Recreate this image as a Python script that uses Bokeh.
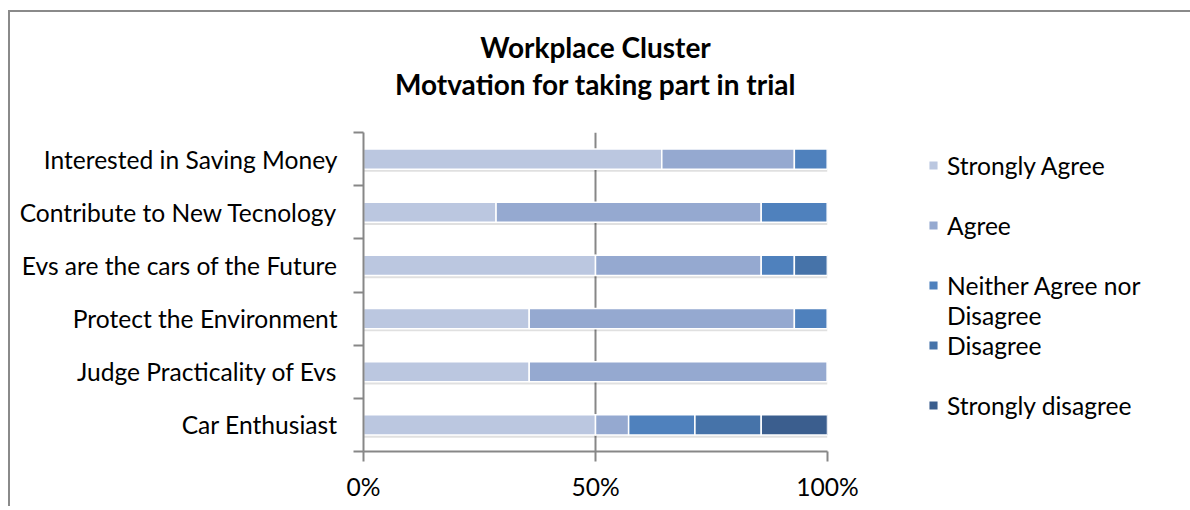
from bokeh.plotting import figure
from bokeh.models import (ColumnDataSource, Range1d, FixedTicker, LinearAxis, NumeralTickFormatter,
                          Legend, LegendItem, Title)
from bokeh.transform import dodge
from bokeh.embed import file_html
from bokeh.resources import INLINE

categories = ["Interested in Saving Money", "Contribute to New Tecnology", "Evs are the cars of the Future",
              "Protect the Environment", "Judge Practicality of Evs", "Car Enthusiast"]
series = ["Strongly Agree", "Agree", "Neither Agree nor Disagree", "Disagree", "Strongly disagree"]
strongly_agree = [9, 4, 7, 5, 5, 7]
agree = [4, 8, 5, 8, 9, 1]
neither = [1, 2, 1, 1, 0, 2]
disagree = [0, 0, 1, 0, 0, 2]
strongly_disagree = [0, 0, 0, 0, 0, 2]
x_ticks = [0, 0.5, 1]
colors = ["#BBC7E0", "#95A9D0", "#4F81BD", "#4673A9", "#3B5E8E"]

title1 = "Workplace Cluster"
title2 = "Motvation for taking part in trial"

FONT = "Lato"
GRAY = "#878787"
FS = "24.6px"

counts = [strongly_agree, agree, neither, disagree, strongly_disagree]
keys = ["sa", "a", "n", "d", "sd"]
n = len(categories)
totals = [sum(c[i] for c in counts) for i in range(n)]
data = {"y": [n - i - 0.5 for i in range(n)], "cat": categories, "total": [1.0] * n}
for k, c in zip(keys, counts):
    data[k] = [c[i] / totals[i] for i in range(n)]
source = ColumnDataSource(data)

p = figure(frame_width=464, frame_height=319, output_backend="svg", toolbar_location=None, title=None,
           x_range=Range1d(0, 1), y_range=Range1d(0, n),
           min_border_left=353, min_border_right=0, min_border_top=120, min_border_bottom=55)
p.styles = {"border-top": "2px solid #8a8a8a", "border-left": "2px solid #8a8a8a",
            "margin-top": "10px", "margin-left": "8px"}
p.outline_line_color = None
p.background_fill_color = "white"
p.border_fill_color = "white"

# grid
p.ygrid.visible = False
p.xgrid.ticker = FixedTicker(ticks=x_ticks)
p.xgrid.grid_line_color = GRAY
p.xgrid.grid_line_width = 2

# shadow
p.hbar(y=dodge("y", -0.05, range=p.y_range), left=0, right="total", height=0.38, source=source,
       fill_color="black", fill_alpha=0.12, line_color=None)

rs = p.hbar_stack(keys, y="y", height=0.38, color=colors, source=source,
                  line_color="white", line_width=1.5)
blank = p.hbar(y="y", left=0, right=0, height=0.0, source=source, fill_alpha=0, line_alpha=0)

# x axis
xa = p.xaxis[0]
xa.ticker = FixedTicker(ticks=x_ticks)
xa.formatter = NumeralTickFormatter(format="0%")
xa.major_tick_out = 10
xa.major_tick_in = 0
xa.minor_tick_line_color = None
xa.axis_line_color = GRAY
xa.axis_line_width = 2
xa.major_tick_line_color = GRAY
xa.major_tick_line_width = 2
xa.major_label_text_font = FONT
xa.major_label_text_font_size = FS
xa.major_label_text_color = "black"
xa.major_label_standoff = 10

# y tick axis (category boundaries)
ya = p.yaxis[0]
ya.ticker = FixedTicker(ticks=list(range(n + 1)))
ya.major_label_overrides = {i: "" for i in range(n + 1)}
ya.major_tick_out = 10
ya.major_tick_in = 0
ya.minor_tick_line_color = None
ya.axis_line_color = GRAY
ya.axis_line_width = 2
ya.major_tick_line_color = GRAY
ya.major_tick_line_width = 2
ya.major_label_standoff = 0

# y label axis
la = LinearAxis(ticker=FixedTicker(ticks=data["y"]),
                major_label_overrides={yv: c for yv, c in zip(data["y"], categories)})
la.major_tick_line_color = None
la.minor_tick_line_color = None
la.axis_line_color = None
la.major_label_text_font = FONT
la.major_label_text_font_size = FS
la.major_label_text_color = "black"
la.major_label_standoff = 10
p.add_layout(la, "left")

# legend (blank rows reproduce the reference's spacing and the wrapped label)
items = [LegendItem(label=series[0], renderers=[rs[0]]),
         LegendItem(label=" ", renderers=[blank]),
         LegendItem(label=series[1], renderers=[rs[1]]),
         LegendItem(label="  ", renderers=[blank]),
         LegendItem(label="Neither Agree nor", renderers=[rs[2]]),
         LegendItem(label="Disagree ", renderers=[blank]),
         LegendItem(label=series[3], renderers=[rs[3]]),
         LegendItem(label="   ", renderers=[blank]),
         LegendItem(label=series[4], renderers=[rs[4]])]
legend = Legend(items=items, location=(100, 31), orientation="vertical",
                glyph_width=12, glyph_height=12, label_text_font=FONT, label_text_font_size=FS,
                label_text_color="black", label_standoff=8, spacing=0, label_height=30,
                padding=0, margin=0, border_line_color=None, background_fill_alpha=0)
p.add_layout(legend, "right")

# title: second line as a label-only top axis, first line as a Title above it
ta = LinearAxis(ticker=FixedTicker(ticks=[]), axis_label=title2)
ta.axis_line_color = None
ta.major_tick_line_color = None
ta.minor_tick_line_color = None
ta.major_tick_out = 0
ta.major_label_standoff = 0
ta.axis_label_standoff = 32
ta.axis_label_text_font = FONT
ta.axis_label_text_font_size = "28px"
ta.axis_label_text_font_style = "bold"
ta.axis_label_text_color = "black"
p.add_layout(ta, "above")

t = Title(text=title1, align="center", text_font=FONT, text_font_size="28px",
          text_font_style="bold", text_color="black", standoff=0)
p.add_layout(t, "above")

open("out.html", "w").write(file_html(p, INLINE))
